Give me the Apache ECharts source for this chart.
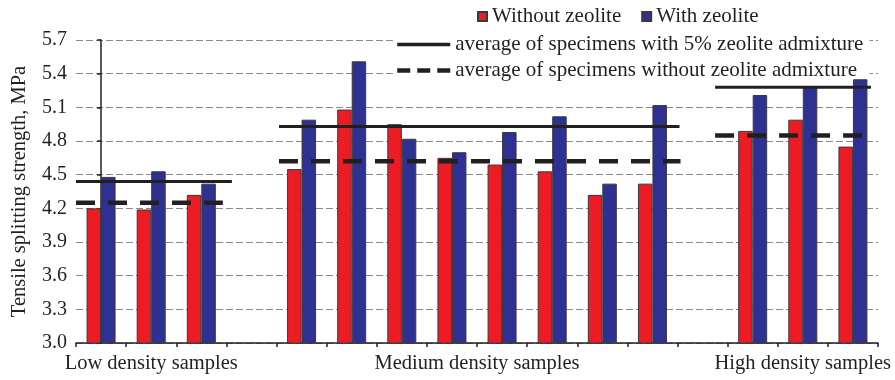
<!DOCTYPE html>
<html>
<head>
<meta charset="utf-8">
<script src="https://cdn.jsdelivr.net/npm/echarts@6/dist/echarts.min.js"></script>
<style>
  html, body { margin: 0; padding: 0; background: #fff; }
  #chart { width: 895px; height: 380px; }
</style>
</head>
<body>
<div id="chart"></div>
<script>
// 16 slots: 3 low, gap, 8 medium, gap, 3 high
const categories = ['L1', 'L2', 'L3', 'gap1', 'M1', 'M2', 'M3', 'M4', 'M5', 'M6', 'M7', 'M8', 'gap2', 'H1', 'H2', 'H3']
const withoutZeolite = [4.20, 4.19, 4.32, null, 4.55, 5.08, 4.95, 4.65, 4.59, 4.53, 4.32, 4.42, null, 4.89, 4.99, 4.75]
const withZeolite = [4.48, 4.53, 4.42, null, 4.99, 5.51, 4.82, 4.70, 4.88, 5.02, 4.42, 5.12, null, 5.21, 5.28, 5.35]

// group averages (low, medium, high) and their extents in slot units
const avgWith = [4.44, 4.93, 5.28]
const avgWithout = [4.25, 4.62, 4.85]
const avgWithFrom = [-0.5, 3.55, 12.25]
const avgWithTo = [2.61, 11.54, 15.36]
const avgWithoutFrom = [-0.5, 3.55, 12.25]
const avgWithoutTo = [2.43, 11.56, 15.23]

const groupLabelPos = [1, 7.5, 14]
const groupLabels = ['Low density samples', 'Medium density samples', 'High density samples']
const yTicks = [3.0, 3.3, 3.6, 3.9, 4.2, 4.5, 4.8, 5.1, 5.4, 5.7]

const nameWith = 'average of specimens with 5% zeolite admixture'
const nameWithout = 'average of specimens without zeolite admixture'

const ink = '#231f20'
const font = 'Liberation Serif'

const chart = echarts.init(document.getElementById('chart'))

const avgSeries = []
avgWith.forEach((v, i) => {
    avgSeries.push({
        name: nameWith,
        type: 'line',
        xAxisIndex: 1,
        symbol: 'none',
        silent: true,
        z: 5,
        color: ink,
        lineStyle: { color: ink, width: 3 },
        data: [[avgWithFrom[i], v], [avgWithTo[i], v]],
    })
})
avgWithout.forEach((v, i) => {
    avgSeries.push({
        name: nameWithout,
        type: 'line',
        xAxisIndex: 1,
        symbol: 'none',
        silent: true,
        z: 5,
        color: ink,
        lineStyle: { color: ink, width: 4.5, type: [19, 13] },
        data: [[avgWithoutFrom[i], v], [avgWithoutTo[i], v]],
    })
})

chart.setOption({
    animation: false,
    textStyle: { fontFamily: font },
    grid: { left: 76, right: 17, top: 40, bottom: 37 },
    legend: [{
        data: ['Without zeolite', 'With zeolite'],
        left: 477,
        top: 6,
        padding: 0,
        icon: 'rect',
        itemWidth: 9,
        itemHeight: 9,
        itemGap: 20,
        selectedMode: false,
        textStyle: { fontFamily: font, fontSize: 21, color: ink },
    }, {
        data: [
            { name: nameWith, itemStyle: { opacity: 0 }, lineStyle: { width: 3.5 } },
            { name: nameWithout, itemStyle: { opacity: 0 }, lineStyle: { width: 4.5, type: [13, 7] } },
        ],
        orient: 'vertical',
        left: 393,
        top: 30,
        z: 1,
        padding: [4, 6, 4, 2],
        backgroundColor: '#fff',
        itemWidth: 53,
        itemHeight: 20,
        itemGap: 5,
        selectedMode: false,
        textStyle: { fontFamily: font, fontSize: 21, color: ink },
    }],
    xAxis: [{
        type: 'category',
        data: categories,
        axisLine: { lineStyle: { color: ink, width: 1.5 } },
        axisTick: { show: true, interval: 0, length: 4, lineStyle: { color: ink, width: 1.5 } },
        axisLabel: { show: false },
    }, {
        type: 'value',
        position: 'bottom',
        min: -0.5,
        max: 15.5,
        interval: 0.5,
        axisLine: { show: false },
        axisTick: { show: false },
        splitLine: { show: false },
        axisLabel: {
            margin: 10,
            fontFamily: font,
            fontSize: 20.5,
            color: ink,
            formatter: v => {
                const k = groupLabelPos.indexOf(v)
                return k >= 0 ? groupLabels[k] : ''
            },
        },
    }],
    yAxis: {
        type: 'value',
        min: yTicks[0],
        max: yTicks[yTicks.length - 1],
        interval: 0.3,
        name: 'Tensile splitting strength, MPa',
        nameLocation: 'middle',
        nameGap: 46,
        nameTextStyle: { fontFamily: font, fontSize: 20.5, color: ink },
        axisLine: { show: true, lineStyle: { color: ink, width: 1.5 } },
        axisTick: { show: true, length: 4, lineStyle: { color: ink, width: 1.5 } },
        axisLabel: {
            margin: 9,
            fontFamily: font,
            fontSize: 20,
            color: ink,
            formatter: v => v.toFixed(1),
        },
        splitLine: { lineStyle: { color: '#8a8a8a', width: 1, type: [7, 3] } },
    },
    series: [{
        name: 'Without zeolite',
        type: 'bar',
        barWidth: 14.5,
        barGap: '0%',
        itemStyle: { color: '#ed1c24', borderColor: '#3a3a3a', borderWidth: 1 },
        data: withoutZeolite,
    }, {
        name: 'With zeolite',
        type: 'bar',
        barWidth: 14.5,
        barGap: '0%',
        itemStyle: { color: '#2e3192', borderColor: '#3a3a3a', borderWidth: 1 },
        data: withZeolite,
    }, ...avgSeries],
})
</script>
</body>
</html>
